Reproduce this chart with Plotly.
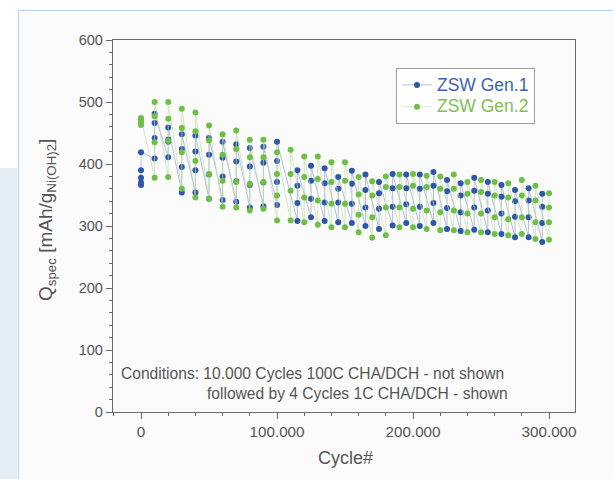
import plotly.graph_objects as go

# Capacity after each block of 10.000 fast cycles: 4 slow (1C) cycles per block
gen1_block_start = [0, 10000, 20000, 30000, 40000, 50000, 60000, 70000, 80000, 90000,
                    100000, 115000, 125000, 135000, 145000, 155000, 165000, 175000,
                    185000, 195000, 205000, 215000, 225000, 235000, 245000, 255000,
                    265000, 275000, 285000, 295000]
gen1_q = [
    [366, 370, 378, 390, 419],
    [409, 442, 466, 481],
    [411, 436, 439, 459],
    [354, 395, 424, 448],
    [354, 390, 420, 446],
    [344, 383, 415, 442],
    [342, 380, 410, 436],
    [339, 372, 404, 432],
    [330, 366, 396, 426],
    [332, 370, 402, 428],
    [334, 371, 405, 436],
    [308, 337, 365, 390],
    [314, 344, 373, 397],
    [308, 338, 369, 393],
    [306, 338, 360, 379],
    [305, 336, 368, 389],
    [300, 330, 358, 383],
    [295, 328, 353, 371],
    [301, 331, 361, 384],
    [305, 335, 361, 383],
    [300, 331, 360, 383],
    [305, 337, 365, 387],
    [295, 329, 356, 374],
    [292, 322, 349, 369],
    [294, 330, 357, 378],
    [290, 325, 352, 371],
    [287, 320, 347, 366],
    [282, 315, 340, 358],
    [282, 314, 341, 361],
    [274, 305, 331, 352],
]

gen2_block_start = [0, 10000, 20000, 30000, 40000, 50000, 60000, 70000, 80000, 90000,
                    100000, 110000, 120000, 130000, 140000, 150000, 160000, 170000,
                    180000, 190000, 200000, 210000, 220000, 230000, 240000, 250000,
                    260000, 270000, 280000, 290000, 300000]
gen2_q = [
    [463, 467, 471, 474],
    [378, 435, 477, 500],
    [379, 437, 473, 500],
    [360, 419, 458, 489],
    [346, 405, 453, 483],
    [344, 384, 438, 462],
    [331, 373, 415, 448],
    [330, 371, 424, 454],
    [325, 368, 411, 439],
    [328, 371, 411, 439],
    [309, 349, 384, 419],
    [309, 357, 384, 423],
    [306, 346, 379, 412],
    [302, 341, 376, 412],
    [298, 336, 371, 403],
    [298, 336, 373, 403],
    [290, 318, 351, 379],
    [281, 314, 349, 372],
    [285, 330, 363, 380],
    [298, 330, 363, 383],
    [298, 328, 365, 384],
    [295, 325, 363, 381],
    [293, 322, 360, 380],
    [293, 325, 360, 383],
    [290, 320, 352, 371],
    [290, 320, 355, 374],
    [287, 314, 349, 371],
    [285, 311, 346, 369],
    [287, 314, 349, 374],
    [279, 306, 341, 365],
    [278, 306, 330, 353],
]

x_ticks = [0, 100000, 200000, 300000]
x_tick_text = ["0", "100.000", "200.000", "300.000"]
y_ticks = [0, 100, 200, 300, 400, 500, 600]


def expand(starts, blocks):
    xs, ys = [], []
    for s, blk in zip(starts, blocks):
        for i, q in enumerate(blk):
            xs.append(s + i + 1)
            ys.append(q)
    return xs, ys


g1x, g1y = expand(gen1_block_start, gen1_q)
g2x, g2y = expand(gen2_block_start, gen2_q)

BLUE = "#2f57a8"
GREEN = "#6fbf45"
FONT = "Liberation Sans, Arial, sans-serif"
AX = "#6b6b6b"
TXT = "#555555"

W, H = 613, 479
ML, MR, MT, MB = 113, 38, 40, 67
PW, PH = W - ML - MR, H - MT - MB


def fx(px):
    return (px - ML) / PW


def fy(py):
    return (H - MB - py) / PH


fig = go.Figure()
fig.add_trace(go.Scatter(
    x=g1x, y=g1y, mode="lines+markers",
    name='<span style="color:#3d62b3;font-size:17.5px">ZSW Gen.1</span>',
    line=dict(color="#93a4c8", width=0.7),
    marker=dict(color=BLUE, size=6, line=dict(width=0)),
))
fig.add_trace(go.Scatter(
    x=g2x, y=g2y, mode="lines+markers",
    name='<span style="color:#7cc050;font-size:17.5px">ZSW Gen.2</span>',
    line=dict(color="#bfe0aa", width=0.7),
    marker=dict(color=GREEN, size=6, line=dict(width=0)),
))

shapes = [
    # light blue strip at the left edge
    dict(type="rect", xref="paper", yref="paper", layer="below",
         x0=fx(-5), x1=fx(17.5), y0=fy(168), y1=fy(490),
         fillcolor="#e3edf5", line=dict(width=0)),
    # framed panel
    dict(type="rect", xref="paper", yref="paper", layer="below",
         x0=fx(18.5), x1=fx(620), y0=fy(10.5), y1=fy(490),
         fillcolor="#fbfbfb", line=dict(color="#b8d4ea", width=1)),
]

annotations = [
    dict(text="Conditions: 10.000 Cycles 100C CHA/DCH - not shown",
         xref="paper", yref="paper", x=fx(119), y=fy(373),
         xanchor="left", yanchor="middle", showarrow=False,
         font=dict(family=FONT, size=15.6, color=TXT)),
    dict(text="followed by 4 Cycles 1C CHA/DCH - shown",
         xref="paper", yref="paper", x=fx(205), y=fy(393),
         xanchor="left", yanchor="middle", showarrow=False,
         font=dict(family=FONT, size=15.6, color=TXT)),
    dict(text="Cycle#", xref="paper", yref="paper", x=fx(345), y=fy(458),
         xanchor="center", yanchor="middle", showarrow=False,
         font=dict(family=FONT, size=18, color=TXT)),
    dict(text="Q<sub>spec</sub> [mAh/g<sub>Ni(OH)2</sub>]",
         xref="paper", yref="paper", x=fx(47), y=fy(220), textangle=-90,
         xanchor="center", yanchor="middle", showarrow=False,
         font=dict(family=FONT, size=19, color=TXT)),
]

fig.update_layout(
    width=W, height=H,
    margin=dict(l=ML, r=MR, t=MT, b=MB, autoexpand=False),
    paper_bgcolor="white", plot_bgcolor="#fefefe",
    font=dict(family=FONT, size=14, color=TXT),
    shapes=shapes, annotations=annotations,
    showlegend=True,
    legend=dict(x=fx(396), y=fy(68), xanchor="left", yanchor="top",
                bgcolor="white", bordercolor="#a0a0a0", borderwidth=1,
                font=dict(family=FONT, size=14.5), tracegroupgap=0,
                itemwidth=30),
)

fig.update_xaxes(
    range=[-20600, 319100], tickvals=x_ticks, ticktext=x_tick_text,
    showgrid=False, zeroline=False, showline=True, linecolor=AX, linewidth=1.4,
    mirror=True, ticks="outside", ticklen=6, tickwidth=1.2, tickcolor=AX,
    tickfont=dict(family=FONT, size=15.2, color=TXT),
    minor=dict(dtick=20000, tick0=0, ticks="outside", ticklen=3, tickcolor=AX, tickwidth=1),
)
fig.update_yaxes(
    range=[0, 600], tickvals=y_ticks,
    showgrid=False, zeroline=False, showline=True, linecolor=AX, linewidth=1.4,
    mirror=True, ticks="outside", ticklen=6, tickwidth=1.2, tickcolor=AX,
    tickfont=dict(family=FONT, size=14.5, color=TXT),
    minor=dict(dtick=20, tick0=0, ticks="outside", ticklen=3, tickcolor=AX, tickwidth=1),
)

fig.write_html("out.html")
